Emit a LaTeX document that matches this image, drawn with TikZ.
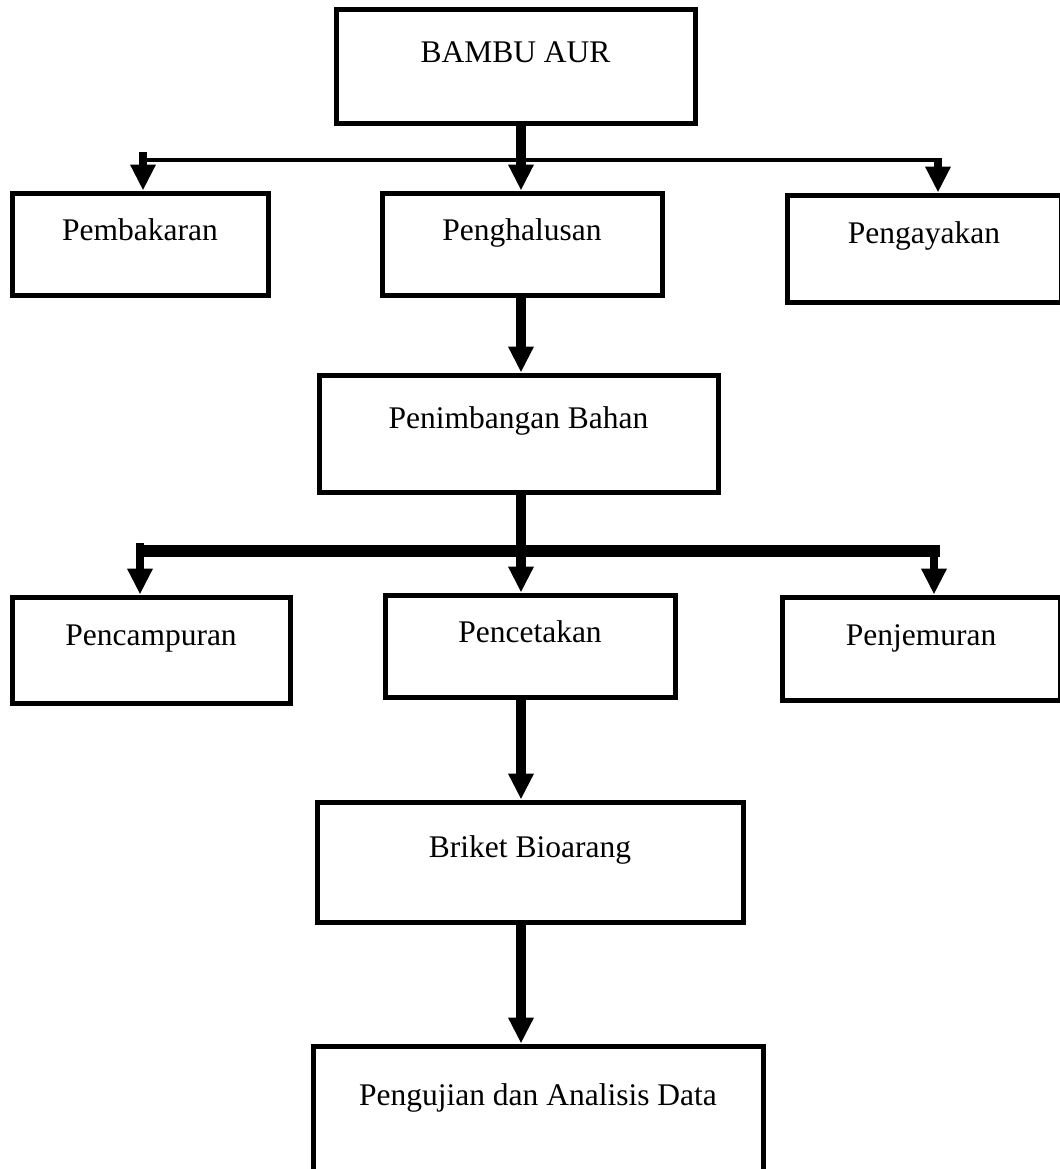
\documentclass[tikz,border=0pt]{standalone}
\usepackage{fontspec}
\setmainfont{Liberation Serif}
\usetikzlibrary{arrows.meta}
\def\px{0.5pt} % one pixel of the layout
\tikzset{
  stage/.style={draw, line width=2.5pt, inner sep=0pt, font=\fontsize{15.75}{19}\selectfont},
  flow/.style={line width=5pt, -{Triangle[width=12pt,length=13pt]}},
  sideflow/.style={line width=4pt, -{Triangle[width=12pt,length=13pt]}},
  thinbus/.style={line width=2pt},
  thickbus/.style={line width=6pt}
}
\newcommand{\stagenode}[6]{% Syntax: {name}{centre}{width}{height}{baseline from top}{text}
  \node[stage, minimum width=#3*\px, minimum height=#4*\px,
        text height=#5*\px, text depth=#4*\px-#5*\px] (#1) at (#2) {#6};
}
\begin{document}
\begin{tikzpicture}[x=\px, y=-\px]
\useasboundingbox (0,0) rectangle (1060,1169);
\clip (0,0) rectangle (1060,1169);
% boxes
\stagenode{bambu}{515.5,66}{359}{114}{53}{BAMBU AUR}
\stagenode{bakar}{140,244}{256}{102}{47}{Pembakaran}
\stagenode{halus}{522,244}{280}{102}{47}{Penghalusan}
\stagenode{ayak}{924,248.5}{274}{107}{48}{Pengayakan}
\stagenode{timbang}{518.5,433.5}{399}{117}{53}{Penimbangan Bahan}
\stagenode{campur}{151,650}{278}{106}{48}{Pencampuran}
\stagenode{cetak}{530,646}{290}{102}{47}{Pencetakan}
\stagenode{jemur}{921,648.5}{278}{103}{48}{Penjemuran}
\stagenode{briket}{530,862}{426}{120}{55}{Briket Bioarang}
\stagenode{uji}{538,1113}{450}{134}{59}{Pengujian dan Analisis Data}
\coordinate (spine) at (521,0);
% first split
\coordinate (busL) at (143,160);
\coordinate (busR) at (942,160);
\coordinate (dropL) at (143,152);
\coordinate (dropR) at (938,158);
\draw[thinbus] (busL) -- (busR);
\draw[flow] (spine |- bambu.south) -- (spine |- halus.north);
\draw[sideflow] (dropL) -- (dropL |- bakar.north);
\draw[sideflow] (dropR) -- (dropR |- ayak.north);
\draw[flow] (spine |- halus.south) -- (spine |- timbang.north);
% second split
\coordinate (barL) at (142,551);
\coordinate (barR) at (940,551);
\coordinate (dropLL) at (140,543);
\coordinate (dropRR) at (934,545);
\draw[thickbus] (barL) -- (barR);
\draw[flow] (spine |- timbang.south) -- (spine |- cetak.north);
\draw[sideflow] (dropLL) -- (dropLL |- campur.north);
\draw[sideflow] (dropRR) -- (dropRR |- jemur.north);
\draw[flow] (spine |- cetak.south) -- (spine |- briket.north);
\draw[flow] (spine |- briket.south) -- (spine |- uji.north);
\end{tikzpicture}
\end{document}
